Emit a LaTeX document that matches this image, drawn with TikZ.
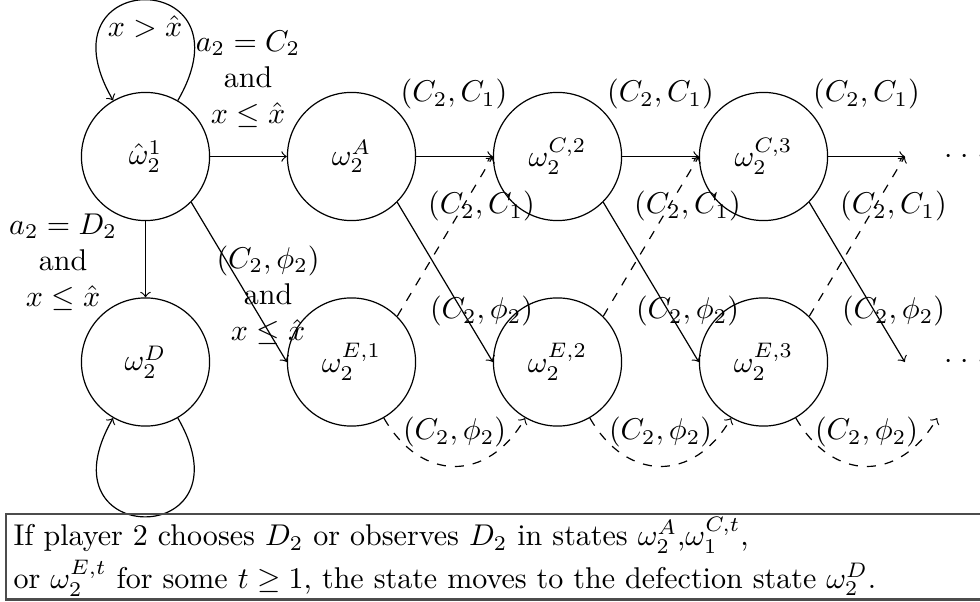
\documentclass[tikz,border=0pt]{standalone}
\usetikzlibrary{arrows}
\begin{document}
\begin{tikzpicture}[x=0.01171cm,y=0.01171cm,
  st/.style={circle,draw,minimum size=1.5cm,inner sep=0pt},
  ghost/.style={circle,minimum size=1.5cm,inner sep=0pt},
  lab/.style={align=center,inner sep=0pt},
  arr/.style={->},
  darr/.style={->,dashed},
  notebox/.style={draw=black!70,line width=0.7pt,anchor=south west,text width=12cm,align=left,inner xsep=2.5pt,inner ysep=1pt}]
\useasboundingbox (0,0) rectangle (980,-602);
\clip (0,0) rectangle (980,-602);
% states
\node[st] (w1) at (145.5,-156.5) {$\hat{\omega}_2^1$};
\node[st] (wD) at (145.5,-362) {$\omega_2^D$};
\node[st] (wA) at (351.5,-156.5) {$\omega_2^A$};
\node[st] (wC2) at (557.5,-156.5) {$\omega_2^{C,2}$};
\node[st] (wC3) at (763.5,-156.5) {$\omega_2^{C,3}$};
\node[ghost] (d1) at (969.5,-156.5) {${\cdot}\hspace{2.7pt}{\cdot}\hspace{2.7pt}{\cdot}\hspace{3pt}$};
\node[st] (wE1) at (351.5,-362) {$\omega_2^{E,1}$};
\node[st] (wE2) at (557.5,-362) {$\omega_2^{E,2}$};
\node[st] (wE3) at (763.5,-362) {$\omega_2^{E,3}$};
\node[ghost] (d2) at (969.5,-362) {${\cdot}\hspace{2.7pt}{\cdot}\hspace{2.7pt}{\cdot}\hspace{3pt}$};
% loops
\draw[arr] (w1.60) .. controls +(60:155) and +(120:155) .. (w1.120);
\draw[arr] (wD.-60) .. controls +(-60:152) and +(-120:152) .. (wD.-120);
% first moves
\draw[arr] (w1) -- (wA);
\draw[arr] (w1) -- (wD);
\draw[arr] (w1.south east) -- (wE1.west);
% top row
\draw[arr] (wA) -- (wC2);
\draw[arr] (wC2) -- (wC3);
\draw[arr] (wC3) -- (d1);
% diagonals down
\draw[arr] (wA.south east) -- (wE2.west);
\draw[arr] (wC2.south east) -- (wE3.west);
\draw[arr] (wC3.south east) -- (d2.west);
% dashed diagonals up
\draw[darr] (wE1.north east) -- (wC2.west);
\draw[darr] (wE2.north east) -- (wC3.west);
\draw[darr] (wE3.north east) -- (d1.west);
% bottom arcs
\draw[darr] (wE1.-60) to[out=-60,in=-120,looseness=1.35] (wE2.-120);
\draw[darr] (wE2.-60) to[out=-60,in=-120,looseness=1.35] (wE3.-120);
\draw[darr] (wE3.-60) to[out=-60,in=-120,looseness=1.35] (d2.-120);
% labels
\node[lab] (l0) at (145,-27) {$x > \hat{x}$};
\node[lab] (l1) at (248,-79) {$a_2 = C_2$\\ and\\ $x \leq \hat{x}$};
\node[lab] (l2) at (63,-262) {$a_2 = D_2$\\ and\\ $x \leq \hat{x}$};
\node[lab] (l3) at (268,-295) {$(C_2,\phi_2)$\\ and\\ $x \leq \hat{x}$};
\node[lab] (t1) at (454,-94) {$(C_2,C_1)$};
\node[lab] (t2) at (660.5,-94) {$(C_2,C_1)$};
\node[lab] (t3) at (866.5,-94) {$(C_2,C_1)$};
\node[lab] (u1) at (481.5,-206) {$(C_2,C_1)$};
\node[lab] (u2) at (687.5,-206) {$(C_2,C_1)$};
\node[lab] (u3) at (893.5,-206) {$(C_2,C_1)$};
\node[lab] (v1) at (481.5,-311) {$(C_2,\phi_2)$};
\node[lab] (v2) at (687.5,-311) {$(C_2,\phi_2)$};
\node[lab] (v3) at (893.5,-311) {$(C_2,\phi_2)$};
\node[lab] (b1) at (454.5,-432) {$(C_2,\phi_2)$};
\node[lab] (b2) at (660.5,-432) {$(C_2,\phi_2)$};
\node[lab] (b3) at (866.5,-432) {$(C_2,\phi_2)$};
% note
\node[notebox] (note) at (5,-600.5) {If player 2 chooses $D_2$ or observes $D_2$ in states $\omega_2^A$,$\omega_1^{C,t}$,\\[1pt] or $\omega_2^{E,t}$ for some $t \geq 1$, the state moves to the defection state $\omega_2^D$.};
\end{tikzpicture}
\end{document}
